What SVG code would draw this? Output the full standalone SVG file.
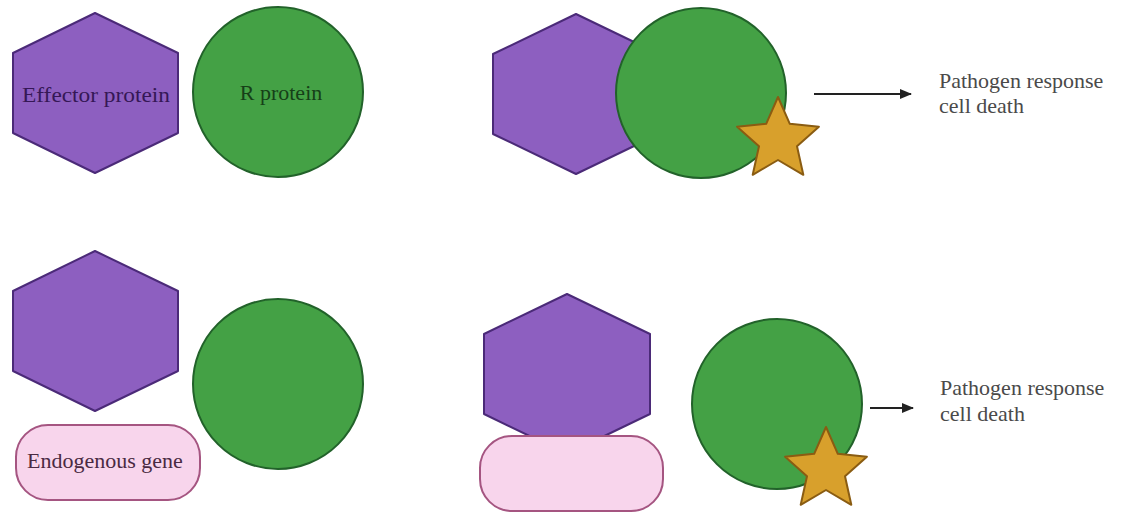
<svg xmlns="http://www.w3.org/2000/svg" xmlns:xlink="http://www.w3.org/1999/xlink" width="1126" height="513" viewBox="0 0 1126 513">
  <style>
    .hex { fill: #8d5fc0; stroke: #4b2a78; stroke-width: 2; stroke-linejoin: round; }
    .circ { fill: #44a145; stroke: #22622a; stroke-width: 2; }
    .star { fill: #d8a02c; stroke: #8a5c12; stroke-width: 2; stroke-linejoin: round; }
    .pill { fill: #f8d5ec; stroke: #a55581; stroke-width: 2; }
    .lbl { font-family: "Liberation Serif", "DejaVu Serif", serif; font-size: 22px; text-anchor: middle; }
    .out { font-family: "Liberation Serif", "DejaVu Serif", serif; font-size: 22px; fill: #4a4a4a; }
    .conn { stroke: #222; stroke-width: 2; fill: none; }
  </style>
  <defs>
    <path id="starShape" d="M0,-43 L11.8,-16.2 L40.9,-13.3 L19,6.2 L25.3,34.8 L0,20 L-25.3,34.8 L-19,6.2 L-40.9,-13.3 L-11.8,-16.2 Z"/>
    <marker id="arrow" markerWidth="12" markerHeight="10" refX="11" refY="5" orient="auto" markerUnits="userSpaceOnUse">
      <path d="M0,0 L12,5 L0,10 Z" fill="#222"/>
    </marker>
  </defs>
  <rect width="1126" height="513" fill="#ffffff"/>

  <!-- Top-left: separate effector and R protein -->
  <g id="effector-protein">
    <polygon class="hex" points="95,13 178,53 178,133 95,173 13,133 13,53"/>
    <text class="lbl" x="96" y="102" fill="#351756" textLength="148" lengthAdjust="spacingAndGlyphs">Effector protein</text>
  </g>
  <g id="r-protein">
    <circle class="circ" cx="278" cy="92" r="85"/>
    <text class="lbl" x="281" y="100" fill="#163f18">R protein</text>
  </g>

  <!-- Top-right: bound complex -->
  <g id="effector-bound">
    <polygon class="hex" points="576,14 659,54 659,134 576,174 493,134 493,54"/>
  </g>
  <g id="r-protein-active">
    <circle class="circ" cx="701" cy="93" r="85"/>
    <use xlink:href="#starShape" class="star" transform="translate(778,140)"/>
  </g>
  <g id="response-top">
    <text class="out" x="939" y="88">Pathogen response</text>
    <text class="out" x="939" y="113">cell death</text>
  </g>

  <!-- Bottom-left: effector, endogenous gene, R protein -->
  <g id="effector-protein-2">
    <polygon class="hex" points="95,251 178,291 178,371 95,411 13,371 13,291"/>
  </g>
  <g id="endogenous-gene">
    <rect class="pill" x="16" y="425" width="184" height="75" rx="32" ry="32"/>
    <text class="lbl" x="105" y="468" fill="#4a2a42">Endogenous gene</text>
  </g>
  <g id="r-protein-2">
    <circle class="circ" cx="278" cy="384" r="85"/>
  </g>

  <!-- Bottom-right: effector bound to endogenous gene; R protein active -->
  <g id="effector-bound-2">
    <polygon class="hex" points="567,294 650,334 650,414 567,454 484,414 484,334"/>
  </g>
  <g id="endogenous-gene-2">
    <rect class="pill" x="480" y="436" width="183" height="75" rx="32" ry="32"/>
  </g>
  <g id="r-protein-active-2">
    <circle class="circ" cx="777" cy="404" r="85"/>
    <use xlink:href="#starShape" class="star" transform="translate(826,470)"/>
  </g>
  <g id="response-bottom">
    <text class="out" x="940" y="395">Pathogen response</text>
    <text class="out" x="940" y="421">cell death</text>
  </g>

  <g id="connectors">
    <line class="conn" x1="814" y1="94" x2="911" y2="94" marker-end="url(#arrow)"/>
    <line class="conn" x1="870" y1="408" x2="913" y2="408" marker-end="url(#arrow)"/>
  </g>
</svg>
